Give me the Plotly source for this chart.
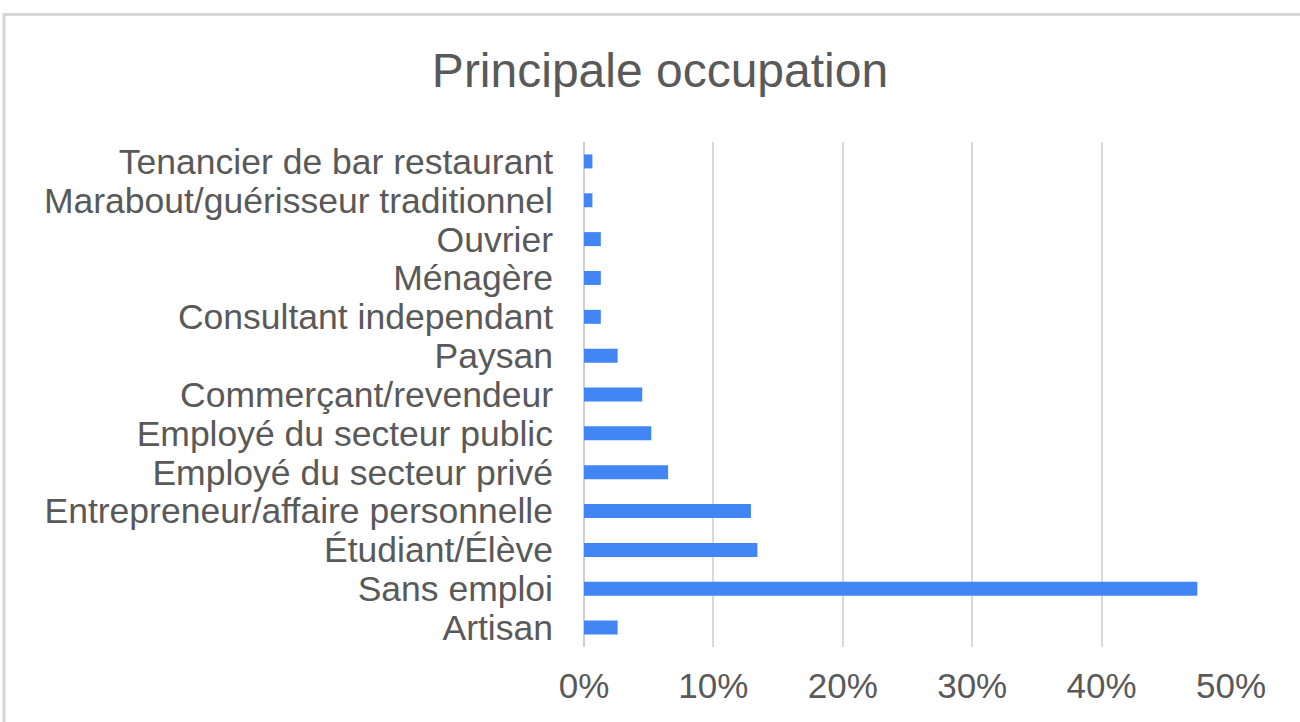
import plotly.graph_objects as go

categories = [
    "Tenancier de bar restaurant",
    "Marabout/guérisseur traditionnel",
    "Ouvrier",
    "Ménagère",
    "Consultant independant",
    "Paysan",
    "Commerçant/revendeur",
    "Employé du secteur public",
    "Employé du secteur privé",
    "Entrepreneur/affaire personnelle",
    "Étudiant/Élève",
    "Sans emploi",
    "Artisan",
]
values_pct = [0.65, 0.65, 1.3, 1.3, 1.3, 2.6, 4.5, 5.2, 6.5, 12.9, 13.4, 47.4, 2.6]
x_ticks = [0, 10, 20, 30, 40, 50]
x_tick_labels = [f"{t}%" for t in x_ticks]

TEXT = "#595959"
GRID = "#d9d9d9"

fig = go.Figure(
    go.Bar(
        y=categories,
        x=values_pct,
        orientation="h",
        marker=dict(color="#4285F4", line=dict(width=0)),
        hovertemplate="%{y}: %{x}%<extra></extra>",
    )
)

W, H = 1300, 722
L, R, T, B = 584, 69, 142, 75
pw, ph = W - L - R, H - T - B

fig.update_layout(
    width=W,
    height=H,
    margin=dict(l=L, r=R, t=T, b=B),
    paper_bgcolor="white",
    plot_bgcolor="white",
    font=dict(family="Liberation Sans, Arial, sans-serif", color=TEXT, size=35),
    title=dict(
        text="Principale occupation",
        x=660 / W,
        xref="container",
        xanchor="center",
        y=1 - 70 / H,
        yref="container",
        yanchor="middle",
        font=dict(size=48, color=TEXT),
    ),
    bargap=0.64,
    showlegend=False,
    xaxis=dict(
        range=[0, 50],
        tickvals=x_ticks,
        ticktext=x_tick_labels,
        showgrid=True,
        gridcolor=GRID,
        gridwidth=2,
        zeroline=True,
        zerolinecolor="#cfcfcf",
        zerolinewidth=2,
        showline=False,
        ticks="",
        ticklabelstandoff=15,
        tickfont=dict(size=35, color=TEXT),
        fixedrange=True,
    ),
    yaxis=dict(
        autorange="reversed",
        tickmode="linear",
        dtick=1,
        showgrid=False,
        showline=False,
        ticks="",
        ticklabelstandoff=30,
        tickfont=dict(size=35.5, color=TEXT),
        fixedrange=True,
    ),
    shapes=[
        dict(
            type="rect",
            xref="paper",
            yref="paper",
            x0=(4 - L) / pw,
            x1=(W + 40 - L) / pw,
            y0=-(H + 40 - (T + ph)) / ph,
            y1=(T + ph - 14.5) / ph,
            line=dict(color="#d6d6d6", width=3),
            fillcolor="rgba(0,0,0,0)",
            layer="below",
        )
    ],
)

fig.write_html(
    "out.html",
    config={"displayModeBar": False},
    post_script="document.body.style.margin='0';document.body.style.overflow='hidden';",
)
